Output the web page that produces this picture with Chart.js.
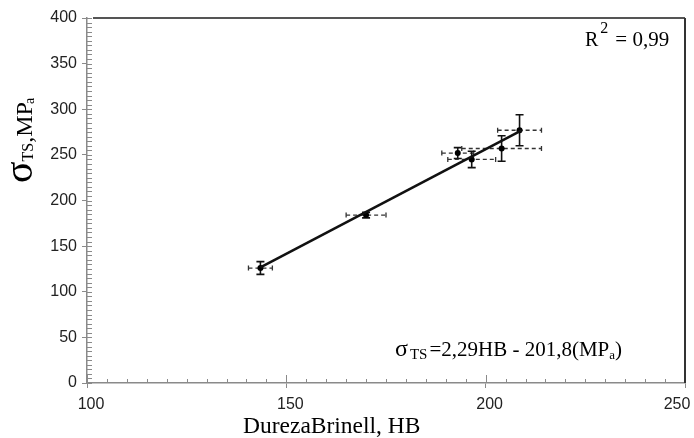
<!DOCTYPE html>
<html>
<head>
<meta charset="utf-8">
<script src="https://cdn.jsdelivr.net/npm/chart.js@4.4.1/dist/chart.umd.min.js"></script>
<style>
html,body{margin:0;padding:0;background:#fff}
#wrap{width:694px;height:438px;position:relative}
</style>
</head>
<body>
<div id="wrap"><canvas id="c"></canvas></div>
<script>
// Data
const hbValues = [143.5, 170, 193, 196.5, 204, 208.5];
const tsValues = [126, 184, 252, 245, 257, 277];
const hbErrors = [3, 5, 4, 6, 10, 5.5];
const tsErrors = [7, 3, 6, 9, 14, 17];
const fitHB = [143.5, 209];
const fitTS = [126.8, 276.8];
const xTickValues = [100, 150, 200, 250];
const yTickValues = [0, 50, 100, 150, 200, 250, 300, 350, 400];
const xTitle = 'DurezaBrinell, HB';
const r2Text = ['R', '2', '= 0,99'];
const eqText = ['σ', 'TS', '=2,29HB - 201,8(MP', 'a', ')'];
const yTitleText = ['σ', 'TS', ',', 'MP', 'a'];

const SERIF = '"Liberation Serif", "Times New Roman", serif';
const SANS = '"Liberation Sans", Arial, sans-serif';

function runs(ctx, x0, y0, list) {
  let x = x0;
  list.forEach(r => {
    ctx.font = r.font;
    x += (r.pre || 0);
    ctx.fillText(r.text, x, y0 + (r.dy || 0));
    x += ctx.measureText(r.text).width + (r.post || 0);
  });
}

const decorPlugin = {
  id: 'decor',
  beforeDatasetsDraw(chart) {
    const ctx = chart.ctx;
    const xs = chart.scales.x, ys = chart.scales.y;
    const ca = chart.chartArea;
    ctx.save();
    // minor ticks
    ctx.strokeStyle = '#8a8a8a';
    ctx.lineWidth = 1;
    ctx.beginPath();
    for (let v = 0; v <= 400; v += 5) {
      const y = Math.round(ys.getPixelForValue(v)) + 0.5;
      ctx.moveTo(ca.left, y); ctx.lineTo(ca.left + 5, y);
    }
    for (let v = 100; v <= 250; v += 5) {
      const x = Math.round(xs.getPixelForValue(v)) + 0.5;
      const len = (v % 50 === 0) ? 8 : 4;
      ctx.moveTo(x, ca.bottom); ctx.lineTo(x, ca.bottom - len);
    }
    ctx.stroke();
    // frame top / right
    ctx.strokeStyle = '#555';
    ctx.lineWidth = 2;
    ctx.beginPath();
    ctx.moveTo(ca.left + 6, ca.top); ctx.lineTo(ca.right, ca.top);
    ctx.stroke();
    ctx.strokeStyle = '#333';
    ctx.beginPath();
    ctx.moveTo(ca.right, ca.top); ctx.lineTo(ca.right, ca.bottom);
    ctx.stroke();
    // error bars
    for (let i = 0; i < hbValues.length; i++) {
      const px = xs.getPixelForValue(hbValues[i]);
      const py = ys.getPixelForValue(tsValues[i]);
      const x1 = xs.getPixelForValue(hbValues[i] - hbErrors[i]);
      const x2 = xs.getPixelForValue(hbValues[i] + hbErrors[i]);
      const y1 = ys.getPixelForValue(tsValues[i] - tsErrors[i]);
      const y2 = ys.getPixelForValue(tsValues[i] + tsErrors[i]);
      ctx.strokeStyle = '#333';
      ctx.lineWidth = 1.3;
      ctx.setLineDash([4, 3]);
      ctx.beginPath();
      ctx.moveTo(x1, py); ctx.lineTo(x2, py);
      ctx.stroke();
      ctx.setLineDash([]);
      ctx.beginPath();
      ctx.moveTo(x1, py - 2.5); ctx.lineTo(x1, py + 2.5);
      ctx.moveTo(x2, py - 2.5); ctx.lineTo(x2, py + 2.5);
      ctx.stroke();
      ctx.strokeStyle = '#111';
      ctx.lineWidth = 1.6;
      ctx.beginPath();
      ctx.moveTo(px, y1); ctx.lineTo(px, y2);
      ctx.moveTo(px - 4, y1); ctx.lineTo(px + 4, y1);
      ctx.moveTo(px - 4, y2); ctx.lineTo(px + 4, y2);
      ctx.stroke();
    }
    ctx.restore();
  },
  afterDraw(chart) {
    const ctx = chart.ctx;
    ctx.save();
    ctx.fillStyle = '#000';
    ctx.textBaseline = 'alphabetic';
    ctx.textAlign = 'left';
    // x title
    ctx.font = '23.5px ' + SERIF;
    ctx.fillText(xTitle, 243, 433);
    // y title (rotated)
    ctx.save();
    ctx.translate(32, 183);
    ctx.rotate(-Math.PI / 2);
    runs(ctx, 0, 0, [
      {text: yTitleText[0], font: '40px ' + SERIF},
      {text: yTitleText[1], font: '16px ' + SERIF, dy: 1},
      {text: yTitleText[2], font: '24px ' + SERIF},
      {text: yTitleText[3], font: '24px ' + SERIF},
      {text: yTitleText[4], font: '14px ' + SERIF, dy: 2, pre: -2}
    ]);
    ctx.restore();
    // R^2
    runs(ctx, 585, 46, [
      {text: r2Text[0], font: '20px ' + SERIF, post: 2},
      {text: r2Text[1], font: '16px ' + SERIF, dy: -13, post: 7},
      {text: r2Text[2], font: '21px ' + SERIF}
    ]);
    // equation
    runs(ctx, 395, 356, [
      {text: eqText[0], font: '24px ' + SERIF, post: 2},
      {text: eqText[1], font: '15px ' + SERIF, dy: 3, post: 2},
      {text: eqText[2], font: '21px ' + SERIF},
      {text: eqText[3], font: '13px ' + SERIF, dy: 3},
      {text: eqText[4], font: '21px ' + SERIF}
    ]);
    ctx.restore();
  }
};

new Chart(document.getElementById('c'), {
  type: 'scatter',
  data: {
    datasets: [
      {
        label: 'fit',
        data: fitHB.map((x, i) => ({x: x, y: fitTS[i]})),
        showLine: true,
        borderColor: '#111',
        borderWidth: 2.6,
        pointRadius: 0,
        fill: false
      },
      {
        label: 'data',
        data: hbValues.map((x, i) => ({x: x, y: tsValues[i]})),
        backgroundColor: '#000',
        borderColor: '#000',
        pointRadius: 3,
        pointBorderWidth: 0
      }
    ]
  },
  options: {
    responsive: true,
    maintainAspectRatio: false,
    animation: false,
    layout: {autoPadding: false, padding: {top: 18, right: 9, left: 0, bottom: 0}},
    plugins: {legend: {display: false}, tooltip: {enabled: false}},
    scales: {
      x: {
        type: 'linear', min: 100, max: 250,
        afterBuildTicks: s => { s.ticks = xTickValues.map(v => ({value: v})); },
        afterFit: s => { s.height = 55; s.paddingLeft = 0; s.paddingRight = 0; },
        grid: {drawOnChartArea: false, drawTicks: true, tickLength: 5, color: '#8a8a8a', lineWidth: 1},
        border: {display: true, color: '#8a8a8a', width: 1.5},
        ticks: {
          font: {family: SANS, size: 16}, color: '#222', padding: 7, labelOffset: 4,
          maxRotation: 0, autoSkip: false,
          callback: v => v === 250 ? '250\u2002\u2002\u2002' : String(v)
        }
      },
      y: {
        type: 'linear', min: 0, max: 400,
        afterBuildTicks: s => { s.ticks = yTickValues.map(v => ({value: v})); },
        afterFit: s => { s.width = 87; s.paddingTop = 0; s.paddingBottom = 0; },
        grid: {drawOnChartArea: false, drawTicks: true, tickLength: 5, color: '#8a8a8a', lineWidth: 1},
        border: {display: true, color: '#8a8a8a', width: 1.5},
        ticks: {font: {family: SANS, size: 16}, color: '#222', padding: 5, autoSkip: false}
      }
    }
  },
  plugins: [decorPlugin]
});
</script>
</body>
</html>
